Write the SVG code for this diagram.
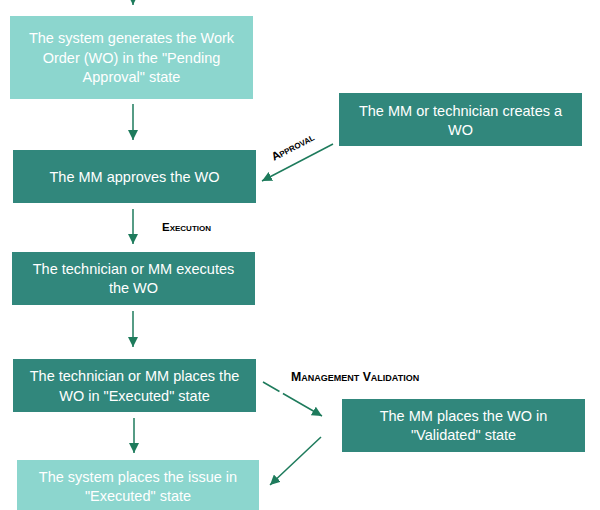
<svg xmlns="http://www.w3.org/2000/svg" width="600" height="510" viewBox="0 0 600 510">
<style>
.dark{fill:#31877c}
.light{fill:#8cd6ce}
.t{font-family:"Liberation Sans",Arial,sans-serif;font-size:14.5px;fill:#ffffff;text-anchor:middle}
.lbl{font-family:"Liberation Sans",Arial,sans-serif;font-size:11.5px;font-weight:bold;font-variant:small-caps;fill:#000000}
.c{stroke:#1e7b5c;stroke-width:1.5;fill:none;marker-end:url(#ah)}
</style>
<defs>
<marker id="ah" markerUnits="userSpaceOnUse" markerWidth="10" markerHeight="10" viewBox="0 0 10 10" refX="10" refY="5" orient="auto">
<path d="M0,0 L10,5 L0,10 Z" fill="#1e7b5c"/>
</marker>
</defs>
<rect width="600" height="510" fill="#ffffff"/>
<g id="connectors">
<line class="c" x1="133" y1="-20" x2="133" y2="5"/>
<line class="c" x1="133" y1="104" x2="133" y2="140"/>
<line class="c" x1="333" y1="144" x2="262" y2="181"/>
<line class="c" x1="133" y1="209" x2="133" y2="244"/>
<line class="c" x1="133" y1="311" x2="133" y2="347"/>
<line class="c" x1="134" y1="418" x2="134" y2="453"/>
<line class="c" x1="263" y1="382" x2="322" y2="416" stroke-dasharray="19 4 200"/>
<line class="c" x1="321" y1="437" x2="270" y2="485"/>
<text class="lbl" transform="translate(274,161) rotate(-27.5)">Approval</text>
<text class="lbl" x="162" y="231">Execution</text>
<text class="lbl" x="291" y="381" style="font-size:12.3px">Management Validation</text>
</g>
<g id="n1">
<rect class="light" x="10" y="16" width="243" height="83"/>
<text class="t" x="131.5" y="43">The system generates the Work</text>
<text class="t" x="131.5" y="63">Order (WO) in the "Pending</text>
<text class="t" x="131.5" y="82">Approval" state</text>
</g>
<g id="n2">
<rect class="dark" x="13" y="150" width="243" height="53"/>
<text class="t" x="134.5" y="182">The MM approves the WO</text>
</g>
<g id="n3">
<rect class="dark" x="339" y="93" width="243" height="53"/>
<text class="t" x="460.5" y="116">The MM or technician creates a</text>
<text class="t" x="460.5" y="135">WO</text>
</g>
<g id="n4">
<rect class="dark" x="12" y="252" width="243" height="53"/>
<text class="t" x="133.5" y="274">The technician or MM executes</text>
<text class="t" x="133.5" y="293">the WO</text>
</g>
<g id="n5">
<rect class="dark" x="13" y="359" width="243" height="53"/>
<text class="t" x="134.5" y="381">The technician or MM places the</text>
<text class="t" x="134.5" y="401">WO in "Executed" state</text>
</g>
<g id="n6">
<rect class="dark" x="342" y="399" width="243" height="53"/>
<text class="t" x="463.5" y="421">The MM places the WO in</text>
<text class="t" x="463.5" y="440">"Validated" state</text>
</g>
<g id="n7">
<rect class="light" x="17" y="460" width="242" height="50"/>
<text class="t" x="138" y="482">The system places the issue in</text>
<text class="t" x="138" y="501">"Executed" state</text>
</g>
</svg>
